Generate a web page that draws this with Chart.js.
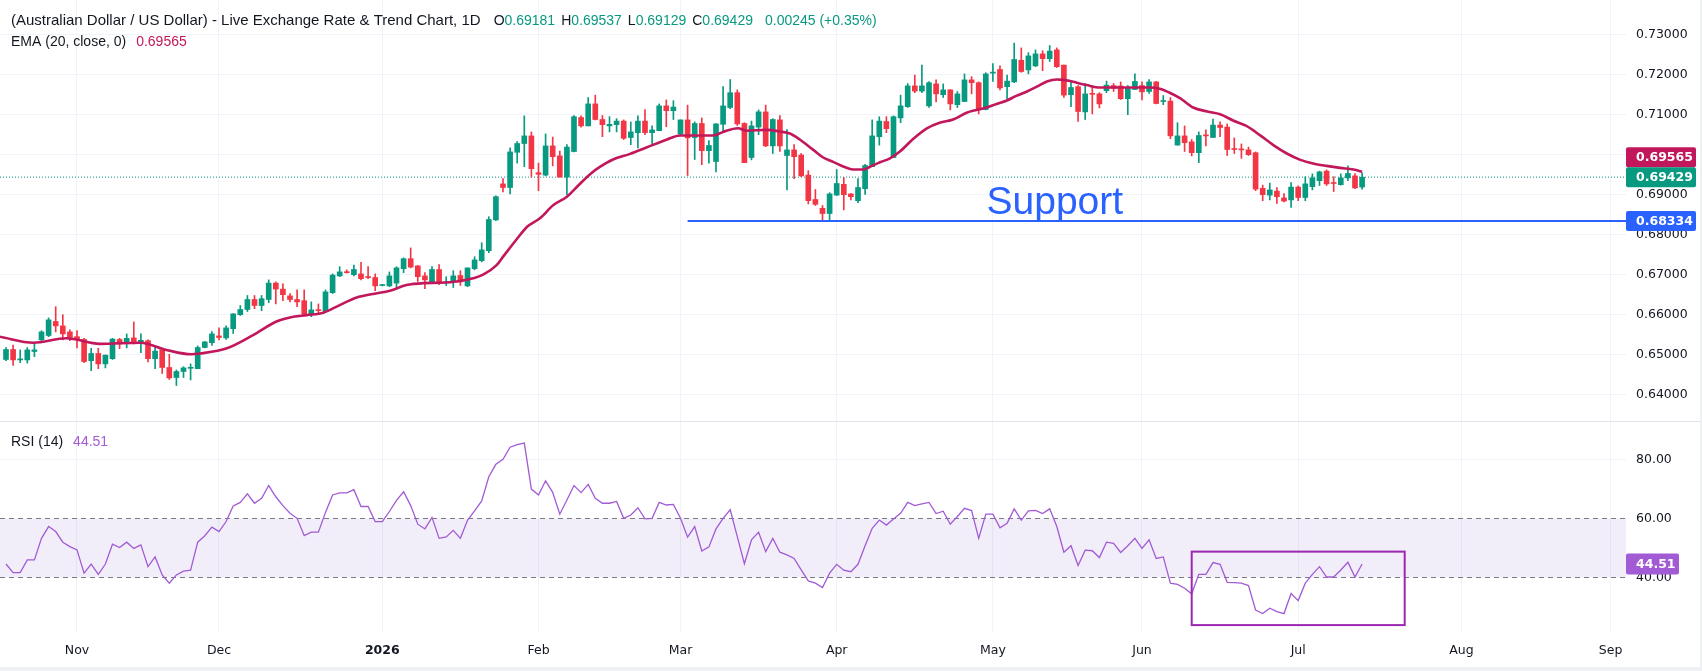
<!DOCTYPE html>
<html>
<head>
<meta charset="utf-8">
<title>AUD/USD daily</title>
<script src="https://cdn.jsdelivr.net/npm/chart.js@4.4.1/dist/chart.umd.min.js"></script>
<style>
  html, body { margin: 0; padding: 0; background: #eef0f4; }
  #wrap { position: absolute; left: 0; top: 0; width: 1700px; height: 667px; background: #fff; overflow: hidden; }
  #priceCanvas { position: absolute; left: 0; top: 0; }
  #sep { position: absolute; left: 0; top: 421px; width: 1700px; height: 1px; background: #e0e3eb; }
  #rsiCanvas { position: absolute; left: 0; top: 422px; }
</style>
</head>
<body>
<div id="wrap">
  <canvas id="priceCanvas" width="1700" height="421"></canvas>
  <div id="sep"></div>
  <canvas id="rsiCanvas" width="1700" height="245"></canvas>
</div>
<script>
// daily bars, index 0 = 20 Oct 2025 ... 191 = 14 Jul 2026 (weekdays only)
const open = [
  0.6487,0.6512,0.6486,0.6486,0.6507,0.6536,0.6547,0.6582,0.6571,0.6556,
  0.6544,0.6537,0.6484,0.6502,0.6476,0.6489,0.6537,0.6527,0.6541,0.6527,
  0.6534,0.6489,0.6511,0.6467,0.6442,0.6457,0.6465,0.6464,0.6517,0.6529,
  0.6546,0.6541,0.6564,0.6599,0.6612,0.6637,0.6622,0.6637,0.6678,0.6663,
  0.6646,0.6637,0.6634,0.6601,0.6610,0.6607,0.6654,0.6696,0.6706,0.6699,
  0.6701,0.6693,0.6692,0.6672,0.6671,0.6678,0.6714,0.6739,0.6721,0.6696,
  0.6681,0.6712,0.6679,0.6682,0.6697,0.6671,0.6714,0.6734,0.6759,0.6836,
  0.6926,0.6917,0.7005,0.7027,0.7046,0.6954,0.6948,0.7021,0.6996,0.6943,
  0.7007,0.7092,0.7071,0.7126,0.7087,0.7071,0.7074,0.7083,0.7042,0.7054,
  0.7083,0.7054,0.7059,0.7121,0.7109,0.7051,0.7086,0.7042,0.7077,0.7009,
  0.6982,0.7075,0.7117,0.7154,0.7077,0.6992,0.7068,0.7106,0.7021,0.7086,
  0.6997,0.7011,0.6998,0.6948,0.6887,0.6865,0.6852,0.6898,0.6925,0.6901,
  0.6884,0.6914,0.6969,0.7044,0.7082,0.6992,0.7091,0.7119,0.7171,0.7158,
  0.7121,0.7176,0.7149,0.7161,0.7124,0.7132,0.7186,0.7179,0.7112,0.7203,
  0.7212,0.7169,0.7181,0.7235,0.7211,0.7221,0.7251,0.7239,0.7261,0.7223,
  0.7149,0.7169,0.7106,0.7151,0.7151,0.7159,0.7172,0.7171,0.7139,0.7162,
  0.7172,0.7157,0.7181,0.7132,0.7133,0.7023,0.7046,0.7031,0.7004,0.7047,
  0.7042,0.7073,0.7068,0.7013,0.7012,0.7011,0.7004,0.6915,0.6898,0.6908,
  0.6891,0.6886,0.6918,0.6892,0.6919,0.6934,0.6958,0.6928,0.6924,0.6941,
  0.6946,0.69181
];
const high = [
  0.6517,0.6523,0.6511,0.6517,0.6527,0.6559,0.6591,0.6619,0.6599,0.6561,
  0.6559,0.6540,0.6515,0.6515,0.6498,0.6540,0.6540,0.6551,0.6581,0.6551,
  0.6536,0.6519,0.6511,0.6500,0.6461,0.6469,0.6476,0.6521,0.6532,0.6557,
  0.6566,0.6571,0.6602,0.6622,0.6647,0.6647,0.6647,0.6686,0.6681,0.6676,
  0.6652,0.6661,0.6661,0.6631,0.6626,0.6661,0.6701,0.6719,0.6711,0.6723,
  0.6730,0.6719,0.6701,0.6674,0.6706,0.6719,0.6741,0.6766,0.6722,0.6704,
  0.6719,0.6724,0.6694,0.6709,0.6709,0.6716,0.6744,0.6779,0.6844,0.6896,
  0.6939,0.7016,0.7032,0.7096,0.7056,0.6978,0.7051,0.7043,0.7008,0.7024,
  0.7097,0.7096,0.7142,0.7148,0.7097,0.7094,0.7089,0.7086,0.7081,0.7096,
  0.7112,0.7071,0.7126,0.7136,0.7134,0.7086,0.7123,0.7081,0.7091,0.7034,
  0.7077,0.7169,0.7187,0.7161,0.7079,0.7083,0.7111,0.7123,0.7089,0.7097,
  0.7062,0.7024,0.7002,0.6959,0.6912,0.6872,0.6904,0.6962,0.6942,0.6902,
  0.6939,0.6975,0.7086,0.7094,0.7094,0.7096,0.7148,0.7177,0.7198,0.7223,
  0.7182,0.7186,0.7176,0.7162,0.7157,0.7201,0.7194,0.7181,0.7204,0.7227,
  0.7221,0.7198,0.7278,0.7266,0.7254,0.7261,0.7259,0.7272,0.7266,0.7223,
  0.7184,0.7172,0.7177,0.7172,0.7154,0.7183,0.7177,0.7181,0.7172,0.7201,
  0.7181,0.7187,0.7182,0.7147,0.7142,0.7079,0.7071,0.7037,0.7056,0.7061,
  0.7088,0.7081,0.7076,0.7041,0.7026,0.7018,0.7006,0.6923,0.6928,0.6917,
  0.6902,0.6929,0.6921,0.6944,0.6951,0.6958,0.6961,0.6944,0.6951,0.6971,
  0.6952,0.69537
];
const low = [
  0.6484,0.6472,0.6479,0.6478,0.6494,0.6534,0.6544,0.6556,0.6536,0.6534,
  0.6516,0.6479,0.6459,0.6464,0.6466,0.6487,0.6514,0.6516,0.6526,0.6504,
  0.6481,0.6464,0.6452,0.6437,0.6422,0.6442,0.6436,0.6464,0.6516,0.6522,
  0.6536,0.6537,0.6552,0.6597,0.6607,0.6614,0.6609,0.6629,0.6626,0.6634,
  0.6631,0.6619,0.6598,0.6594,0.6602,0.6604,0.6652,0.6694,0.6703,0.6696,
  0.6686,0.6689,0.6659,0.6671,0.6669,0.6667,0.6704,0.6716,0.6682,0.6664,
  0.6678,0.6674,0.6672,0.6667,0.6672,0.6669,0.6711,0.6731,0.6754,0.6834,
  0.6906,0.6901,0.6978,0.6969,0.6943,0.6909,0.6946,0.6971,0.6943,0.6899,
  0.7006,0.7068,0.7071,0.7086,0.7044,0.7056,0.7056,0.7037,0.7024,0.7016,
  0.7049,0.7026,0.7059,0.7069,0.7087,0.7049,0.6947,0.6987,0.6974,0.6978,
  0.6956,0.7056,0.7114,0.7072,0.6979,0.6986,0.7049,0.7019,0.7002,0.7007,
  0.6911,0.6939,0.6944,0.6876,0.6872,0.6833,0.6833,0.6897,0.6861,0.6886,
  0.6879,0.6900,0.6969,0.7023,0.7054,0.6992,0.7079,0.7117,0.7154,0.7154,
  0.7117,0.7131,0.7142,0.7111,0.7117,0.7132,0.7151,0.7101,0.7111,0.7182,
  0.7161,0.7136,0.7179,0.7205,0.7201,0.7219,0.7209,0.7232,0.7217,0.7142,
  0.7119,0.7082,0.7087,0.7101,0.7116,0.7154,0.7157,0.7137,0.7099,0.7162,
  0.7136,0.7152,0.7126,0.7124,0.7039,0.7023,0.7007,0.6996,0.6979,0.7021,
  0.7042,0.7044,0.6997,0.7002,0.6990,0.6997,0.6909,0.6884,0.6886,0.6877,
  0.6881,0.6867,0.6884,0.6884,0.6911,0.6922,0.6922,0.6907,0.6923,0.6934,
  0.6914,0.69129
];
const close = [
  0.6512,0.6486,0.6487,0.6511,0.6511,0.6556,0.6586,0.6571,0.6551,0.6542,
  0.6537,0.6482,0.6502,0.6476,0.6498,0.6538,0.6526,0.6540,0.6527,0.6535,
  0.6489,0.6508,0.6467,0.6441,0.6457,0.6466,0.6466,0.6517,0.6531,0.6551,
  0.6542,0.6566,0.6601,0.6612,0.6637,0.6622,0.6639,0.6678,0.6663,0.6649,
  0.6637,0.6631,0.6601,0.6611,0.6609,0.6656,0.6698,0.6706,0.6704,0.6712,
  0.6689,0.6692,0.6671,0.6673,0.6696,0.6716,0.6739,0.6718,0.6694,0.6686,
  0.6712,0.6679,0.6680,0.6696,0.6681,0.6716,0.6736,0.6761,0.6837,0.6894,
  0.6917,0.7006,0.7027,0.7046,0.6964,0.6950,0.7021,0.6994,0.6943,0.7018,
  0.7094,0.7071,0.7126,0.7087,0.7074,0.7075,0.7083,0.7040,0.7056,0.7083,
  0.7054,0.7061,0.7121,0.7109,0.7118,0.7086,0.7041,0.7077,0.7009,0.7022,
  0.7076,0.7121,0.7154,0.7076,0.6979,0.7071,0.7106,0.7021,0.7087,0.7021,
  0.7011,0.6994,0.6946,0.6884,0.6875,0.6852,0.6901,0.6927,0.6899,0.6894,
  0.6917,0.6972,0.7046,0.7083,0.7064,0.7094,0.7121,0.7171,0.7158,0.7171,
  0.7179,0.7151,0.7161,0.7126,0.7151,0.7186,0.7179,0.7111,0.7201,0.7204,
  0.7166,0.7183,0.7237,0.7207,0.7246,0.7251,0.7239,0.7258,0.7219,0.7148,
  0.7167,0.7107,0.7151,0.7150,0.7126,0.7173,0.7165,0.7139,0.7165,0.7182,
  0.7156,0.7181,0.7127,0.7133,0.7046,0.7046,0.7029,0.7004,0.7047,0.7046,
  0.7073,0.7067,0.7012,0.7012,0.7011,0.6999,0.6913,0.6899,0.6911,0.6894,
  0.6883,0.6918,0.6892,0.6926,0.6941,0.6956,0.6926,0.6927,0.6941,0.6952,
  0.6916,0.69429
];

// EMA(20): bar position -> value
const emaDay = [
  -0.85,3.85,8.5,13.2,18.9,22.6,26.1,27.3,31.1,34.8,38.1,40.0,42.35,44.7,47.0,49.4,51.7,54.1,56.4,58.8,
  61.1,63.5,65.8,67.2,69.1,70.1,71.9,73.4,75.2,77.1,79.0,80.6,82.3,83.7,85.5,87.9,90.2,93.1,94.9,96.8,
  99.6,101.0,103.1,104.3,107.1,109.0,110.4,111.8,113.7,115.1,116.5,118.0,119.3,120.7,121.7,123.1,124.5,125.9,127.8,129.7,
  131.5,133.4,135.3,136.7,138.1,139.5,140.9,142.3,143.8,145.2,146.6,148.0,148.9,149.9,150.8,152.2,154.1,157.4,161.1,162.5,
  163.9,165.4,167.2,169.2,171.0,172.9,174.7,176.6,178.5,180.4,182.3,184.1,186.0,187.9,189.8,191.0
];
const emaValue = [
  0.6544,0.6529,0.6540,0.6526,0.6529,0.6511,0.6500,0.6502,0.6515,0.6548,0.6582,0.6592,0.6598,0.6604,0.6623,0.6642,0.6651,0.6659,0.6673,0.6678,
  0.6679,0.6682,0.6690,0.6699,0.6723,0.6746,0.6787,0.6819,0.6840,0.6873,0.6894,0.6922,0.6951,0.6969,0.6987,0.7001,0.7017,0.7037,0.7047,0.7047,
  0.7047,0.7056,0.7065,0.7059,0.7061,0.7057,0.7052,0.7037,0.7011,0.6992,0.6981,0.6969,0.6962,0.6962,0.6969,0.6980,0.6990,0.7007,0.7039,0.7065,
  0.7079,0.7087,0.7104,0.7111,0.7117,0.7126,0.7134,0.7146,0.7157,0.7169,0.7182,0.7187,0.7186,0.7183,0.7179,0.7173,0.7167,0.7167,0.7167,0.7164,
  0.7154,0.7140,0.7117,0.7107,0.7100,0.7084,0.7071,0.7048,0.7023,0.7002,0.6986,0.6977,0.6971,0.6966,0.6962,0.69565
];

// RSI(14), one value per bar
const rsi = [
  44.5,41.6,41.6,45.9,45.9,53.2,57.2,55.5,51.9,50.4,
  49.3,41.4,44.5,41.0,44.5,51.2,50.1,51.9,49.8,51.0,
  43.6,46.9,40.8,38.0,40.8,42.1,42.4,51.9,54.1,57.0,
  55.5,58.9,64.2,65.4,68.3,65.1,66.8,71.1,67.3,64.3,
  61.7,60.0,54.1,55.3,55.3,62.0,67.9,68.6,68.6,69.7,
  64.0,64.0,58.9,58.9,62.3,66.1,69.0,64.3,58.0,56.4,
  60.3,53.2,53.7,55.9,53.2,59.3,62.5,65.9,74.1,78.3,
  80.0,84.1,85.0,85.5,69.9,67.9,72.7,68.8,61.4,66.2,
  71.1,68.7,71.5,66.8,65.1,65.1,65.7,60.0,61.1,63.6,
  59.8,60.0,65.4,64.5,64.7,60.0,53.6,57.2,48.9,50.3,
  56.4,60.0,62.9,53.8,44.6,52.7,55.3,48.7,53.2,48.5,
  47.6,46.4,42.5,38.8,38.0,36.5,41.4,44.4,42.4,41.9,
  44.4,50.7,56.6,59.4,57.7,59.8,61.7,65.4,64.3,64.9,
  65.4,61.6,62.4,58.0,60.6,63.4,62.6,53.2,61.4,61.4,
  56.8,58.3,63.2,59.4,62.5,62.7,61.6,63.2,57.2,48.5,
  50.7,44.0,49.2,49.0,46.7,51.9,51.5,48.4,50.7,53.2,
  49.8,52.7,46.4,46.9,38.0,37.6,36.3,34.4,41.0,41.0,
  45.0,44.4,38.3,38.2,38.0,37.2,28.9,27.7,29.5,28.4,
  27.7,34.5,32.1,38.0,41.0,43.6,40.1,40.1,42.5,45.1,
  40.1,44.51
];

// axis ticks
const monthIdx = [10, 30, 53, 75, 95, 117, 139, 160, 182, 205, 226];
const monthLabels = ['Nov', 'Dec', '2026', 'Feb', 'Mar', 'Apr', 'May', 'Jun', 'Jul', 'Aug', 'Sep'];
const priceTicks = [0.64, 0.65, 0.66, 0.67, 0.68, 0.69, 0.70, 0.71, 0.72, 0.73];
const rsiTicks = [40, 60, 80];

// drawings
const supportLevel = 0.68334;
const supportFrom = 96;
const supportText = 'Support';
const supportTextAt = [138.1, 0.68508];
const rsiBand = [40, 60];
const rsiBox = { x0: 167, x1: 197, y0: 23.8, y1: 48.7 };
const emaLast = 0.69565;
const titleText = '(Australian Dollar / US Dollar) - Live Exchange Rate & Trend Chart, 1D';
const changeText = '0.00245 (+0.35%)';

// view
const X_MIN = -0.845, X_MAX = 228.17;
const P_MIN = 0.633325, P_MAX = 0.738575;
const R_MIN = 21.46, R_MAX = 92.64;

const GREEN = '#089981', RED = '#f23645', EMA_COLOR = '#c2185b';
const SUPPORT_COLOR = '#2962ff', RSI_COLOR = '#a15bd4', BOX_COLOR = '#9c27b0';
const GRID = '#f0f3fa', TEXT = '#131722';
const AXIS_FONT = '"DejaVu Sans", sans-serif';
const LEGEND_FONT = '"Liberation Sans", Arial, sans-serif';
const AXIS_W = 74;

Chart.defaults.font.family = AXIS_FONT;
Chart.defaults.color = TEXT;

const idx = close.map((_, i) => i);
const candleColor = close.map((c, i) => c >= open[i] ? GREEN : RED);
const last = close.length - 1;

function drawRuns(ctx, x, y, runs) {
    for (const [text, color, gap, size] of runs) {
        ctx.font = (size || 14) + 'px ' + LEGEND_FONT;
        ctx.fillStyle = color;
        ctx.fillText(text, x, y);
        x += ctx.measureText(text).width + (gap || 0);
    }
}

function tag(ctx, x, yc, w, h, bg, text) {
    ctx.fillStyle = bg;
    ctx.beginPath();
    ctx.roundRect(x, yc - h / 2, w, h, 2);
    ctx.fill();
    ctx.fillStyle = '#fff';
    ctx.font = 'bold 12.5px ' + AXIS_FONT;
    ctx.textAlign = 'left';
    ctx.textBaseline = 'middle';
    ctx.fillText(text, x + 10, yc + 0.5);
}

function xAxis(showLabels) {
    return {
        type: 'linear', min: X_MIN, max: X_MAX, offset: false,
        grid: { color: GRID, offset: false, drawTicks: false },
        border: { display: false },
        afterBuildTicks: s => { s.ticks = monthIdx.map(v => ({ value: v })); },
        ticks: {
            display: showLabels, autoSkip: false, maxRotation: 0, padding: 11, color: TEXT,
            font: c => ({ family: AXIS_FONT, size: 12.5, weight: monthLabels[c.index] === '2026' ? 'bold' : 'normal' }),
            callback: (v, k) => monthLabels[k]
        },
        afterFit: s => { s.height = showLabels ? 35 : 0; s.paddingLeft = 0; s.paddingRight = 0; }
    };
}

const priceOverlay = {
    id: 'priceOverlay',
    afterDatasetsDraw(chart) {
        const { ctx, scales: { x, y } } = chart;
        ctx.save();
        ctx.fillStyle = SUPPORT_COLOR;
        ctx.font = '39px ' + LEGEND_FONT;
        ctx.textAlign = 'left';
        ctx.textBaseline = 'alphabetic';
        ctx.fillText(supportText, x.getPixelForValue(supportTextAt[0]), y.getPixelForValue(supportTextAt[1]));
        ctx.restore();
    },
    afterDraw(chart) {
        const { ctx, chartArea, scales: { y } } = chart;
        ctx.save();
        ctx.textAlign = 'left';
        ctx.textBaseline = 'middle';
        drawRuns(ctx, 11, 21, [
            [titleText, TEXT, 13, 15],
            ['O', TEXT], [open[last].toFixed(5), GREEN, 6],
            ['H', TEXT], [high[last].toFixed(5), GREEN, 6],
            ['L', TEXT], [low[last].toFixed(5), GREEN, 6],
            ['C', TEXT], [close[last].toFixed(5), GREEN, 12],
            [changeText, GREEN]
        ]);
        drawRuns(ctx, 11, 42, [['EMA (20, close, 0)', TEXT, 10], [emaLast.toFixed(5), EMA_COLOR]]);

        const w = 70, h = 20, x0 = chartArea.right;
        const yLast = y.getPixelForValue(close[last]);
        const yEma = Math.min(y.getPixelForValue(emaLast), yLast - h);
        tag(ctx, x0, y.getPixelForValue(supportLevel), w, h, SUPPORT_COLOR, supportLevel.toFixed(5));
        tag(ctx, x0, yEma, w, h, EMA_COLOR, emaLast.toFixed(5));
        tag(ctx, x0, yLast, w, h, GREEN, close[last].toFixed(5));
        ctx.restore();
    }
};

new Chart(document.getElementById('priceCanvas'), {
    type: 'bar',
    data: {
        datasets: [
            {
                type: 'line', label: 'EMA 20',
                data: emaDay.map((d, k) => ({ x: d, y: emaValue[k] })),
                borderColor: EMA_COLOR, borderWidth: 2.6, pointRadius: 0,
                cubicInterpolationMode: 'monotone', order: 0
            },
            {
                type: 'line', label: 'Support',
                data: [{ x: supportFrom, y: supportLevel }, { x: X_MAX, y: supportLevel }],
                borderColor: SUPPORT_COLOR, borderWidth: 2, pointRadius: 0, order: 0
            },
            {
                type: 'line', label: 'Last',
                data: [{ x: X_MIN, y: close[last] }, { x: X_MAX, y: close[last] }],
                borderColor: GREEN, borderWidth: 1, borderDash: [1, 2], pointRadius: 0, order: 4
            },
            {
                label: 'wick', data: idx.map(i => ({ x: i, y: [low[i], high[i]] })),
                backgroundColor: candleColor, barThickness: 1, grouped: false, order: 2
            },
            {
                label: 'body', data: idx.map(i => ({ x: i, y: [open[i], close[i]] })),
                backgroundColor: candleColor, barThickness: 5, minBarLength: 1, grouped: false, order: 1
            }
        ]
    },
    options: {
        responsive: false, animation: false, devicePixelRatio: 1,
        layout: { padding: 0 },
        plugins: { legend: { display: false }, tooltip: { enabled: false } },
        scales: {
            x: xAxis(false),
            y: {
                position: 'right', min: P_MIN, max: P_MAX,
                afterBuildTicks: s => { s.ticks = priceTicks.map(v => ({ value: v })); },
                ticks: { padding: 10, color: TEXT, font: { size: 12.5 }, callback: v => v.toFixed(5) },
                grid: { color: GRID, drawTicks: false },
                border: { display: false },
                afterFit: s => { s.width = AXIS_W; s.paddingTop = 0; s.paddingBottom = 0; }
            }
        }
    },
    plugins: [priceOverlay]
});

const rsiOverlay = {
    id: 'rsiOverlay',
    beforeDatasetsDraw(chart) {
        const { ctx, chartArea: a, scales: { y } } = chart;
        const yTop = y.getPixelForValue(rsiBand[1]), yBot = y.getPixelForValue(rsiBand[0]);
        ctx.save();
        ctx.fillStyle = 'rgba(126, 87, 194, 0.1)';
        ctx.fillRect(a.left, yTop, a.right - a.left, yBot - yTop);
        ctx.strokeStyle = '#787b86';
        ctx.lineWidth = 1;
        ctx.setLineDash([5, 4]);
        for (const yy of [yTop, yBot]) {
            ctx.beginPath();
            ctx.moveTo(a.left, Math.round(yy) + 0.5);
            ctx.lineTo(a.right, Math.round(yy) + 0.5);
            ctx.stroke();
        }
        ctx.restore();
    },
    afterDatasetsDraw(chart) {
        const { ctx, scales: { x, y } } = chart;
        const l = x.getPixelForValue(rsiBox.x0), r = x.getPixelForValue(rsiBox.x1);
        const t = y.getPixelForValue(rsiBox.y1), b = y.getPixelForValue(rsiBox.y0);
        ctx.save();
        ctx.strokeStyle = BOX_COLOR;
        ctx.lineWidth = 2;
        ctx.strokeRect(l, t, r - l, b - t);
        ctx.restore();
    },
    afterDraw(chart) {
        const { ctx, chartArea, scales: { y } } = chart;
        ctx.save();
        ctx.textAlign = 'left';
        ctx.textBaseline = 'middle';
        drawRuns(ctx, 11, 20, [['RSI (14)', TEXT, 10], [rsi[last].toFixed(2), RSI_COLOR]]);
        tag(ctx, chartArea.right, y.getPixelForValue(rsi[last]), 53, 21, RSI_COLOR, rsi[last].toFixed(2));
        ctx.restore();
    }
};

new Chart(document.getElementById('rsiCanvas'), {
    type: 'line',
    data: {
        datasets: [{
            label: 'RSI 14', data: idx.map(i => ({ x: i, y: rsi[i] })),
            borderColor: RSI_COLOR, borderWidth: 1.3, pointRadius: 0, tension: 0
        }]
    },
    options: {
        responsive: false, animation: false, devicePixelRatio: 1,
        layout: { padding: 0 },
        plugins: { legend: { display: false }, tooltip: { enabled: false } },
        scales: {
            x: xAxis(true),
            y: {
                position: 'right', min: R_MIN, max: R_MAX,
                afterBuildTicks: s => { s.ticks = rsiTicks.map(v => ({ value: v })); },
                ticks: { padding: 10, color: TEXT, font: { size: 12.5 }, callback: v => v.toFixed(2) },
                grid: { color: c => (c.tick && c.tick.value === 80) ? GRID : 'rgba(0,0,0,0)', drawTicks: false },
                border: { display: false },
                afterFit: s => { s.width = AXIS_W; s.paddingTop = 0; s.paddingBottom = 0; }
            }
        }
    },
    plugins: [rsiOverlay]
});
</script>
</body>
</html>
